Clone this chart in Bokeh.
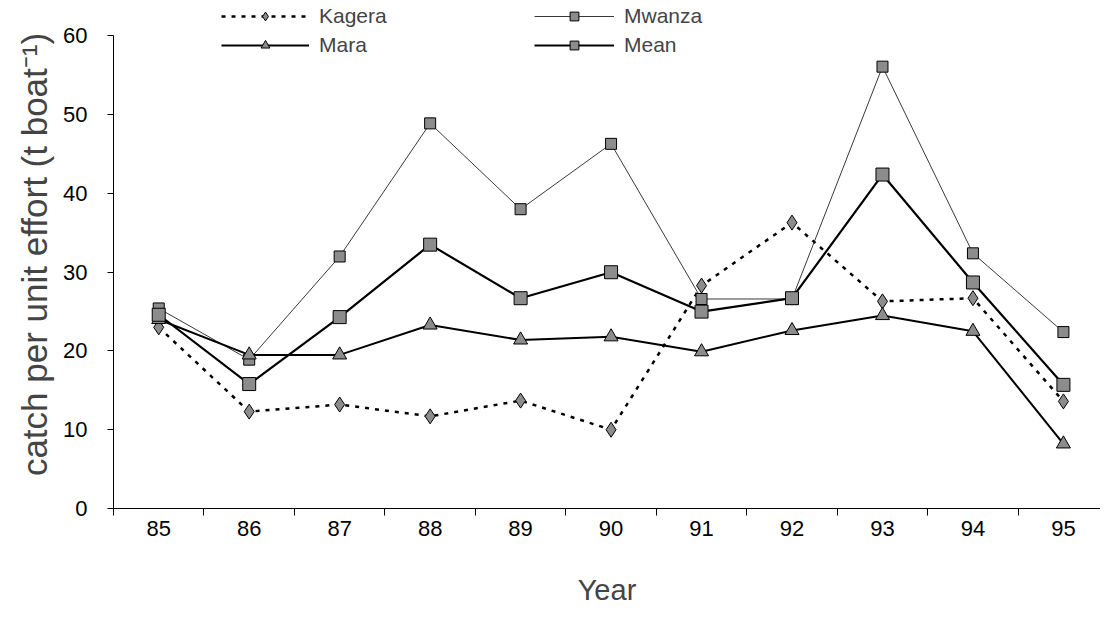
from bokeh.plotting import figure
from bokeh.models import Legend, LegendItem, FixedTicker, Range1d
from bokeh.embed import file_html
from bokeh.resources import INLINE

# ---- data ----
years = [85, 86, 87, 88, 89, 90, 91, 92, 93, 94, 95]
kagera = [23.0, 12.3, 13.2, 11.7, 13.7, 10.0, 28.3, 36.3, 26.3, 26.7, 13.6]
mwanza = [25.4, 18.9, 32.0, 48.9, 38.0, 46.3, 26.6, 26.6, 56.1, 32.4, 22.4]
mara = [24.0, 19.5, 19.5, 23.3, 21.4, 21.8, 19.9, 22.6, 24.5, 22.5, 8.2]
mean = [24.6, 15.8, 24.3, 33.5, 26.7, 30.0, 25.0, 26.7, 42.4, 28.7, 15.7]
y_ticks = [0, 10, 20, 30, 40, 50, 60]
year_bounds = [84.5 + i for i in range(12)]

FONT = "Liberation Sans"

p = figure(width=1100, height=630, output_backend="svg", toolbar_location=None,
           x_range=Range1d(84.5, 95.41), y_range=Range1d(0, 64.5),
           min_border_left=113, min_border_right=0, min_border_top=0,
           min_border_bottom=122)
p.outline_line_color = None
p.grid.visible = False

# axes
xa = p.xaxis[0]
xa.ticker = FixedTicker(ticks=years, minor_ticks=year_bounds)
xa.bounds = (84.5, 95.5)
xa.major_tick_line_color = None
xa.major_tick_out = 0
xa.major_tick_in = 0
xa.minor_tick_out = 7
xa.minor_tick_in = 0
xa.minor_tick_line_color = "black"
xa.major_label_standoff = 5
xa.major_label_text_font = FONT
xa.major_label_text_font_size = "22px"
xa.major_label_text_color = "black"
xa.axis_label = "Year"
xa.axis_label_text_font = FONT
xa.axis_label_text_font_style = "normal"
xa.axis_label_text_font_size = "29px"
xa.axis_label_standoff = 35
xa.axis_line_color = "black"

ya = p.yaxis[0]
ya.ticker = FixedTicker(ticks=y_ticks)
ya.bounds = (0, 60)
ya.major_tick_out = 6
ya.major_tick_in = 0
ya.minor_tick_line_color = None
ya.major_label_standoff = 20
ya.major_label_text_font = FONT
ya.major_label_text_font_size = "22px"
ya.major_label_text_color = "black"
ya.axis_label = "catch per unit effort (t boat\u207b\u00b9)"
ya.axis_label_text_font = FONT
ya.axis_label_text_font_style = "normal"
ya.axis_label_text_font_size = "35px"
ya.axis_label_standoff = 6
ya.axis_line_color = "black"

GREY = "#8c8c8c"

# series
k_line = p.line(years, kagera, line_color="black", line_width=2.5, line_dash="4 6")
k_mark = p.scatter(years, kagera, marker="diamond", size=15, fill_color=GREY,
                   line_color="black", line_width=1)
w_line = p.line(years, mwanza, line_color="#222222", line_width=0.9)
w_mark = p.scatter(years, mwanza, marker="square", size=11, fill_color=GREY,
                   line_color="black", line_width=1)
r_line = p.line(years, mara, line_color="black", line_width=2)
r_mark = p.scatter(years, mara, marker="triangle", size=14, fill_color=GREY,
                   line_color="black", line_width=1)
m_line = p.line(years, mean, line_color="black", line_width=2.2)
m_mark = p.scatter(years, mean, marker="square", size=13, fill_color=GREY,
                   line_color="black", line_width=1)


def make_legend(items, loc, gw):
    lg = Legend(items=items, location=loc, orientation="vertical",
                glyph_width=gw, glyph_height=22, label_height=22,
                label_standoff=10, spacing=5, padding=0, margin=0,
                border_line_color=None, background_fill_alpha=0,
                label_text_font=FONT, label_text_font_size="21px")
    return lg


leg1 = make_legend([LegendItem(label="Kagera", renderers=[k_line, k_mark]),
                    LegendItem(label="Mara", renderers=[r_line, r_mark])], (108, 451), 88)
leg2 = make_legend([LegendItem(label="Mwanza", renderers=[w_line, w_mark]),
                    LegendItem(label="Mean", renderers=[m_line, m_mark])], (421, 451), 80)
p.add_layout(leg1, "center")
p.add_layout(leg2, "center")

open("out.html", "w").write(file_html(p, INLINE))
